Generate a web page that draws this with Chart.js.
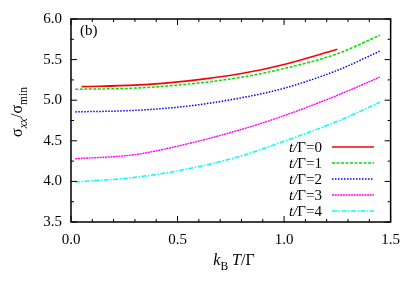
<!DOCTYPE html>
<html>
<head>
<meta charset="utf-8">
<script src="https://cdn.jsdelivr.net/npm/chart.js@4.4.0/dist/chart.umd.min.js"></script>
<style>
  html, body { margin: 0; padding: 0; background: #fff; }
  #wrap { width: 409px; height: 286px; }
</style>
</head>
<body>
<div id="wrap"><canvas id="grafik" width="409" height="286"></canvas></div>
<script>
// veriler
const sicaklikKirmizi = [0.05, 0.3, 0.55, 0.8, 1.0, 1.25];
const sicaklik = [0.02, 0.3, 0.55, 0.8, 1.0, 1.25, 1.45];
const sigmaT0 = [5.167, 5.186, 5.238, 5.328, 5.44, 5.627];
const sigmaT1 = [5.135, 5.149, 5.198, 5.283, 5.39, 5.573, 5.80];
const sigmaT2 = [4.856, 4.875, 4.928, 5.03, 5.147, 5.368, 5.605];
const sigmaT3 = [4.279, 4.33, 4.465, 4.64, 4.81, 5.06, 5.285];
const sigmaT4 = [3.993, 4.05, 4.155, 4.315, 4.495, 4.74, 4.976];
const etiketler = ["0", "1", "2", "3", "4"];
const xTikler = [0, 0.5, 1.0, 1.5];
const yTikler = [3.5, 4.0, 4.5, 5.0, 5.5, 6.0];

const SERIF = "'Liberation Serif', 'Times New Roman', 'DejaVu Serif', serif";

function noktalar(xs, ys) {
  return xs.map((x, i) => ({ x: x, y: ys[i] }));
}

const seriler = [
  { veri: noktalar(sicaklikKirmizi, sigmaT0), renk: "#ff0000", dash: [], kalinlik: 1.6 },
  { veri: noktalar(sicaklik, sigmaT1), renk: "#00e000", dash: [3, 1.5], kalinlik: 1.5 },
  { veri: noktalar(sicaklik, sigmaT2), renk: "#0000ff", dash: [1.5, 1.5], kalinlik: 1.5 },
  { veri: noktalar(sicaklik, sigmaT3), renk: "#ff00ff", dash: [2, 0.7], kalinlik: 1.4 },
  { veri: noktalar(sicaklik, sigmaT4), renk: "#00ffff", dash: [5, 1.5, 1.5, 1.5], kalinlik: 1.5 }
];

// karisik yazi parcalari cizer: [metin, italik, alt indis]
function parcaCiz(ctx, parcalar, x, y, boyut) {
  let cx = x;
  parcalar.forEach(p => {
    const b = p[2] ? boyut * 0.72 : boyut;
    ctx.font = (p[1] ? "italic " : "") + b + "px " + SERIF;
    ctx.fillText(p[0], cx, p[2] ? y + boyut * 0.3 : y);
    cx += ctx.measureText(p[0]).width;
  });
  return cx - x;
}
function parcaGenislik(ctx, parcalar, boyut) {
  let w = 0;
  parcalar.forEach(p => {
    const b = p[2] ? boyut * 0.72 : boyut;
    ctx.font = (p[1] ? "italic " : "") + b + "px " + SERIF;
    w += ctx.measureText(p[0]).width;
  });
  return w;
}

const cerceve = {
  id: "cerceve",
  afterDraw(chart) {
    const ctx = chart.ctx;
    const a = chart.chartArea;
    const xs = chart.scales.x, ys = chart.scales.y;
    ctx.save();
    ctx.strokeStyle = "#000";
    ctx.lineWidth = 1.5;
    ctx.strokeRect(a.left, a.top, a.right - a.left, a.bottom - a.top);

    // ice dogru tikler
    ctx.lineWidth = 1;
    ctx.beginPath();
    for (let i = 0; i <= 15; i++) {
      const px = xs.getPixelForValue(i / 10);
      const L = (i % 5 === 0) ? 6 : 3;
      ctx.moveTo(px, a.bottom); ctx.lineTo(px, a.bottom - L);
      ctx.moveTo(px, a.top); ctx.lineTo(px, a.top + L);
    }
    for (let i = 0; i <= 10; i++) {
      const py = ys.getPixelForValue(3.5 + i * 0.25);
      const L = (i % 2 === 0) ? 6 : 3;
      ctx.moveTo(a.left, py); ctx.lineTo(a.left + L, py);
      ctx.moveTo(a.right, py); ctx.lineTo(a.right - L, py);
    }
    ctx.stroke();

    ctx.fillStyle = "#000";
    ctx.textBaseline = "alphabetic";

    // (b) etiketi
    ctx.font = "15px " + SERIF;
    ctx.fillText("(b)", a.left + 9, a.top + 16);

    // x ekseni basligi
    const xParca = [["k", true], ["B", false, true], [" T", true], ["/Γ", false]];
    const xw = parcaGenislik(ctx, xParca, 16);
    parcaCiz(ctx, xParca, 234 - xw / 2, 265, 16);

    // y ekseni basligi
    ctx.save();
    ctx.translate(22, 112);
    ctx.rotate(-Math.PI / 2);
    const yParca = [["σ", false], ["xx", true, true], ["/σ", false], ["min", false, true]];
    const yw = parcaGenislik(ctx, yParca, 16);
    parcaCiz(ctx, yParca, -yw / 2, 0, 16);
    ctx.restore();

    // lejant
    const metinSag = 322, cizgiBas = 332, cizgiSon = 374;
    const satirlar = [147, 163, 179, 195, 211];
    seriler.forEach((s, i) => {
      const y = satirlar[i];
      const parca = [["t/", true], ["Γ=" + etiketler[i], false]];
      const w = parcaGenislik(ctx, parca, 15);
      ctx.fillStyle = "#000";
      parcaCiz(ctx, parca, metinSag - w, y + 5, 15);
      ctx.strokeStyle = s.renk;
      ctx.lineWidth = s.kalinlik;
      ctx.setLineDash(s.dash);
      ctx.beginPath();
      ctx.moveTo(cizgiBas, y); ctx.lineTo(cizgiSon, y);
      ctx.stroke();
      ctx.setLineDash([]);
    });
    ctx.restore();
  }
};

new Chart(document.getElementById("grafik"), {
  type: "line",
  data: {
    datasets: seriler.map((s, i) => ({
      label: "t/Γ=" + etiketler[i],
      data: s.veri,
      borderColor: s.renk,
      borderWidth: s.kalinlik,
      borderDash: s.dash,
      pointRadius: 0,
      fill: false,
      cubicInterpolationMode: "monotone"
    }))
  },
  options: {
    responsive: false,
    animation: false,
    layout: { padding: { top: 19, right: 16.5, left: 0, bottom: 0 } },
    plugins: { legend: { display: false }, tooltip: { enabled: false } },
    scales: {
      x: {
        type: "linear",
        min: 0, max: 1.5,
        grid: { display: false, drawTicks: false },
        border: { display: false },
        afterBuildTicks: sc => { sc.ticks = xTikler.map(v => ({ value: v })); },
        afterFit: sc => { sc.height = 64; },
        ticks: {
          color: "#000",
          padding: 9,
          font: { family: SERIF, size: 15 },
          callback: v => v.toFixed(1)
        }
      },
      y: {
        type: "linear",
        min: 3.5, max: 6.0,
        grid: { display: false, drawTicks: false },
        border: { display: false },
        afterBuildTicks: sc => { sc.ticks = yTikler.map(v => ({ value: v })); },
        afterFit: sc => { sc.width = 71; },
        ticks: {
          color: "#000",
          padding: 9,
          font: { family: SERIF, size: 15 },
          callback: v => v.toFixed(1)
        }
      }
    }
  },
  plugins: [cerceve]
});
</script>
</body>
</html>
